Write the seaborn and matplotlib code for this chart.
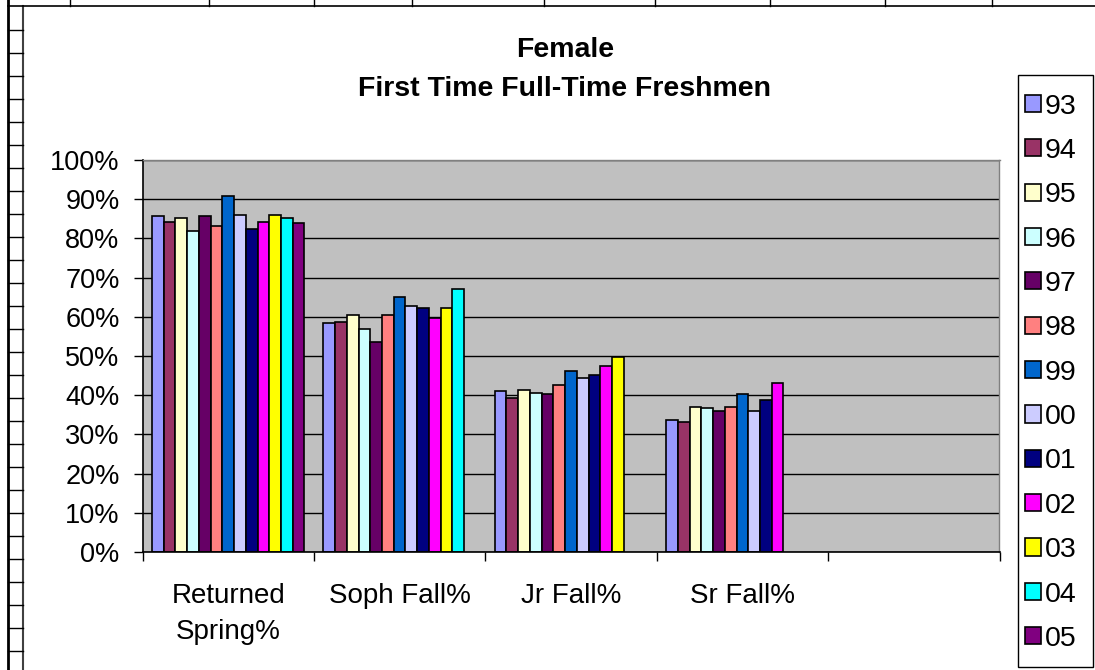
import numpy as np
import pandas as pd
import seaborn as sns
import matplotlib.pyplot as plt
from matplotlib.lines import Line2D
from matplotlib.patches import Rectangle
from matplotlib.ticker import PercentFormatter, FixedLocator

# data
categories = ['Returned\nSpring%', 'Soph Fall%', 'Jr Fall%', 'Sr Fall%']
years = ['93', '94', '95', '96', '97', '98', '99', '00', '01', '02', '03', '04', '05']
returned_spring = [85.8, 84.1, 85.3, 81.8, 85.8, 83.2, 90.8, 85.9, 82.4, 84.1, 85.9, 85.3, 83.9]
soph_fall = [58.3, 58.8, 60.5, 56.8, 53.6, 60.5, 65.1, 62.8, 62.3, 59.7, 62.2, 67.0, np.nan]
jr_fall = [41.1, 39.2, 41.4, 40.6, 40.2, 42.5, 46.1, 44.3, 45.1, 47.4, 49.8, np.nan, np.nan]
sr_fall = [33.6, 33.2, 36.9, 36.8, 36.0, 36.9, 40.3, 36.0, 38.9, 43.2, np.nan, np.nan, np.nan]
colors = ['#9999FF', '#993366', '#FFFFCC', '#CCFFFF', '#660066', '#FF8080', '#0066CC',
          '#CCCCFF', '#000080', '#FF00FF', '#FFFF00', '#00FFFF', '#800080']

rows = []
for cat, vals in zip(categories, [returned_spring, soph_fall, jr_fall, sr_fall]):
    for yr, v in zip(years, vals):
        rows.append({'category': cat, 'year': yr, 'pct': v})
df = pd.DataFrame(rows)

plt.rcParams['font.family'] = ['Liberation Sans', 'DejaVu Sans']
W, H = 1095, 670
fig = plt.figure(figsize=(W / 100, H / 100), dpi=100)
ax = fig.add_axes([142.5 / W, 1 - 552 / H, 857 / W, 392 / H])

sns.barplot(data=df, x='category', y='pct', hue='year', order=categories, hue_order=years,
            palette=colors, width=0.89, gap=0, errorbar=None, edgecolor='black',
            linewidth=1.2, ax=ax, saturation=1)

ax.set_facecolor('#C0C0C0')
ax.set_xlim(-0.5, 4.5)
ax.set_ylim(0, 100)
ax.set_yticks(np.arange(0, 101, 10))
ax.yaxis.set_major_formatter(PercentFormatter(100, decimals=0))
ax.yaxis.grid(True, color='black', linewidth=1)
ax.set_axisbelow(True)
ax.tick_params(axis='y', labelsize=19.5, length=6.5, width=1, pad=10)

# category boundaries as tick marks, labels centred in between
ax.xaxis.set_major_locator(FixedLocator(np.arange(-0.5, 4.6, 1)))
ax.set_xticklabels([''] * 6)
ax.xaxis.set_minor_locator(FixedLocator(np.arange(len(categories))))
ax.set_xticklabels(categories, minor=True, linespacing=1.5)
ax.tick_params(axis='x', which='major', length=6.5, width=1)
ax.tick_params(axis='x', which='minor', length=0, labelsize=20, pad=22)
ax.set_xlabel('')
ax.set_ylabel('')

for s in ['left', 'bottom']:
    ax.spines[s].set_color('black')
    ax.spines[s].set_linewidth(1.2)
for s in ['top', 'right']:
    ax.spines[s].set_color('#808080')
    ax.spines[s].set_linewidth(1)

fig.text(565 / W, 1 - 69.5 / H, 'Female\nFirst Time Full-Time Freshmen', ha='center', va='center',
         fontsize=20.5, fontweight='bold', linespacing=1.68)

# legend box drawn separately (behind the axes), entries placed inside it
fig.add_artist(Rectangle((1018 / W, 1 - 667 / H), 75 / W, 592 / H, transform=fig.transFigure,
                         facecolor='white', edgecolor='black', linewidth=1, zorder=-1))
leg = ax.legend(loc='upper left', bbox_to_anchor=(1025 / W, 1 - 93.5 / H), bbox_transform=fig.transFigure,
                fontsize=20.5, frameon=False, handlelength=0.55, handleheight=0.55,
                handletextpad=0.15, labelspacing=0.645, borderpad=0, borderaxespad=0)

# spreadsheet cell borders around the chart
def px_line(x0, y0, x1, y1, lw=1, color='black'):
    fig.add_artist(Line2D([x0 / W, x1 / W], [1 - y0 / H, 1 - y1 / H], transform=fig.transFigure,
                          color=color, linewidth=lw))

px_line(8, 0, 8, H, lw=2)
px_line(22.5, 6, 22.5, H, lw=1.5, color='#404040')
px_line(8, 6, W, 6, lw=1.2)
for x in [70, 209, 314, 412, 544, 655, 770, 885, 992]:
    px_line(x, 0, x, 6)
for y in np.arange(30, 660, 23):
    px_line(8, y, 22.5, y)

fig.savefig('out.png', dpi=100)
